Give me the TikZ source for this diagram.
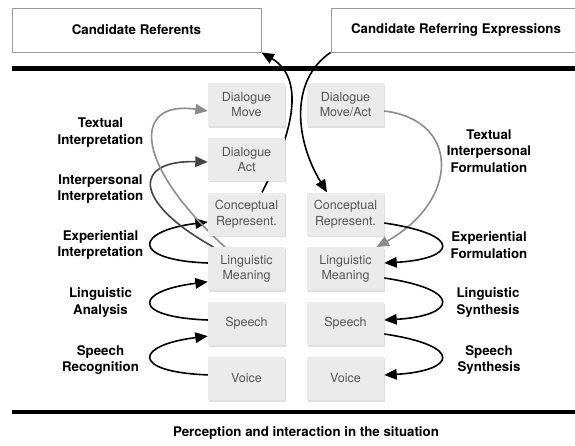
\documentclass[tikz,border=0pt]{standalone}
\usepackage{fontspec}
\setmainfont{TeX Gyre Heros}
\usepackage{tikz}
\usetikzlibrary{arrows.meta,calc,shadows,backgrounds}

\tikzset{
  stage/.style={rectangle, fill=stagefill, text=stagetext, minimum width=77pt, minimum height=43pt,
    inner sep=0pt, align=center, font=\fontsize{12.5}{15.5}\selectfont,
    drop shadow={opacity=0.25, shadow xshift=0.6pt, shadow yshift=-1.6pt}},
  topbox/.style={rectangle, draw=framecolor, line width=0.9pt, fill=white, minimum height=44pt,
    inner sep=0pt, font=\bfseries\fontsize{13.3}{15}\selectfont},
  procname/.style={align=center, inner sep=0pt, font=\bfseries\fontsize{13.3}{16.5}\selectfont},
  sepline/.style={line width=4.5pt},
  pointer/.style={line width=1.6pt, -{Triangle[length=12.5pt,width=10.5pt]}}
}

\begin{document}
\begin{tikzpicture}[x=1pt,y=-1pt]
        % Define colors
        \definecolor{stagefill}{HTML}{EBEBEB}  % box fill
        \definecolor{stagetext}{HTML}{555555}  % box text
        \definecolor{framecolor}{HTML}{9A9A9A} % top frames
        \definecolor{lightarrow}{HTML}{8C8C8C} % textual
        \definecolor{darkarrow}{HTML}{444444}  % interpersonal

        \useasboundingbox (0,0) rectangle (575,445);

        % Candidate boxes
        \node[topbox, minimum width=249pt] (referents) at (136.5,30) {Candidate Referents};
        \node[topbox, minimum width=250pt] (expressions) at (456,30) {Candidate Referring Expressions};

        % Separating rules
        \draw[sepline] (12,68.5) -- (576,68.5);
        \draw[sepline] (12,412) -- (576,412);

        % Understanding side
        \node[stage] (moveL)   at (246.5,104.5) {Dialogue\\Move};
        \node[stage] (actL)    at (246.5,159.3) {Dialogue\\Act};
        \node[stage] (concL)   at (246.5,214)   {Conceptual\\Represent.};
        \node[stage] (meanL)   at (246.5,268.8) {Linguistic\\Meaning};
        \node[stage] (speechL) at (246.5,323.6) {Speech};
        \node[stage] (voiceL)  at (246.5,378.4) {Voice};

        % Generation side
        \node[stage] (moveR)   at (345.5,104.5) {Dialogue\\Move/Act};
        \node[stage] (concR)   at (345.5,214)   {Conceptual\\Represent.};
        \node[stage] (meanR)   at (345.5,268.8) {Linguistic\\Meaning};
        \node[stage] (speechR) at (345.5,323.6) {Speech};
        \node[stage] (voiceR)  at (345.5,378.4) {Voice};

        % Process names
        \node[procname] (textI)  at (100.5,132.5) {Textual\\Interpretation};
        \node[procname] (interI) at (100.5,189)   {Interpersonal\\Interpretation};
        \node[procname] (expI)   at (100.5,245)   {Experiential\\Interpretation};
        \node[procname] (lingA)  at (100.5,302.5) {Linguistic\\Analysis};
        \node[procname] (speechRec) at (100.5,360) {Speech\\Recognition};

        \node[procname] (textF)  at (489,151)   {Textual\\Interpersonal\\Formulation};
        \node[procname] (expF)   at (489,245)   {Experiential\\Formulation};
        \node[procname] (lingS)  at (488,302.5) {Linguistic\\Synthesis};
        \node[procname] (speechS) at (489,360)  {Speech\\Synthesis};

        \node[procname] (situation) at (306,433) {Perception and interaction in the situation};

        \begin{pgfonlayer}{background}
        % Left loops
        \draw[pointer] ([yshift=3.5pt]voiceL.west) .. controls ($([yshift=3.5pt]voiceL.west)+(-78,-3)$)
            and ($([yshift=-12.5pt]speechL.west)+(-73,9)$) .. ([yshift=-12.5pt]speechL.west); % recognition
        \draw[pointer] ([yshift=3.6pt]speechL.west) .. controls ($([yshift=3.6pt]speechL.west)+(-78,-3)$)
            and ($([yshift=-13pt]meanL.west)+(-73,9)$) .. ([yshift=-13pt]meanL.west); % analysis
        \draw[pointer] ([yshift=5.8pt]meanL.west) .. controls ($([yshift=5.8pt]meanL.west)+(-78,-3)$)
            and ($([yshift=-8pt]concL.west)+(-73,9)$) .. ([yshift=-8pt]concL.west); % experiential
        \draw[pointer, darkarrow] ([xshift=-33pt]meanL.north) .. controls ($([xshift=-33pt]meanL.north)+(-83.5,-47)$)
            and ($([yshift=-2.7pt]actL.west)+(-73,-2)$) .. ([yshift=-2.7pt]actL.west); % interpersonal
        \draw[pointer, lightarrow] ([xshift=-21.5pt]meanL.north) .. controls ($([xshift=-21.5pt]meanL.north)+(-95,-87)$)
            and ($([yshift=-6.5pt]moveL.west)+(-73,-11)$) .. ([yshift=-6.5pt]moveL.west); % textual

        % Right loops
        \draw[pointer, lightarrow] ([yshift=-6.5pt]moveR.east) .. controls ($([yshift=-6.5pt]moveR.east)+(76,9)$)
            and ($([xshift=31pt]meanR.north)+(83.5,-47)$) .. ([xshift=31pt]meanR.north); % textual/interpersonal
        \draw[pointer] ([yshift=-9pt]concR.east) .. controls ($([yshift=-9pt]concR.east)+(81,12)$)
            and ($([yshift=5.8pt]meanR.east)+(71,-4)$) .. ([yshift=5.8pt]meanR.east); % experiential
        \draw[pointer] ([yshift=-9.2pt]meanR.east) .. controls ($([yshift=-9.2pt]meanR.east)+(81,12)$)
            and ($([yshift=3.6pt]speechR.east)+(71,-4)$) .. ([yshift=3.6pt]speechR.east); % synthesis
        \draw[pointer] ([yshift=-10.4pt]speechR.east) .. controls ($([yshift=-10.4pt]speechR.east)+(81,12)$)
            and ($([yshift=3.4pt]voiceR.east)+(71,-4)$) .. ([yshift=3.4pt]voiceR.east); % speech synthesis

        % Links to the candidates
        \draw[pointer] ([xshift=15.5pt]concL.north) .. controls ($([xshift=15.5pt]concL.north)+(38,-72.5)$)
            and ($(referents.south east)+(39,23)$) .. (referents.south east);
        \draw[pointer] (expressions.south west) .. controls ($(expressions.south west)+(-41,28)$)
            and ($([xshift=-18.5pt]concR.north)+(-32,-52.5)$) .. ([xshift=-18.5pt]concR.north);
        \end{pgfonlayer}
\end{tikzpicture}
\end{document}
